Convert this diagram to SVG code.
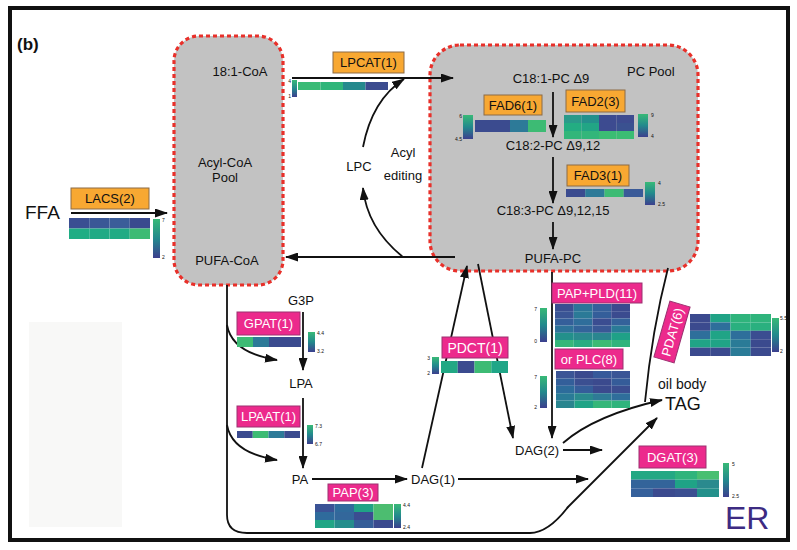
<svg xmlns="http://www.w3.org/2000/svg" width="797" height="550" viewBox="0 0 797 550">
<style>
text{font-family:"Liberation Sans",Arial,sans-serif;fill:#111}
.lbl{font-size:13px}
.c{text-anchor:middle}
.e{text-anchor:end}
.tiny{font-size:5px}
.pool{fill:#c2c2c2;stroke:#e8302a;stroke-width:3.2;stroke-dasharray:4 3}
.or{fill:#f8a832;stroke:#8c6b45;stroke-width:1}
.pk{fill:#ec2a8c;stroke:#9c3070;stroke-width:1}
.pkt{fill:#fff;font-size:13px;text-anchor:middle}
.ln{fill:none;stroke:#111;stroke-width:1.8}
.ar{fill:none;stroke:#111;stroke-width:1.8;marker-end:url(#ah)}
</style>
<defs>
<marker id="ah" markerUnits="userSpaceOnUse" markerWidth="13" markerHeight="9" refX="12" refY="4.5" orient="auto">
<path d="M0,0 L13,4.5 L0,9 z" fill="#111"/>
</marker>
<linearGradient id="lg" x1="0" y1="0" x2="0" y2="1">
<stop offset="0" stop-color="#38b977"/>
<stop offset="0.5" stop-color="#22898d"/>
<stop offset="1" stop-color="#3c3f8e"/>
</linearGradient>
</defs>
<rect width="797" height="550" fill="#fff"/>
<rect x="29" y="322" width="93" height="205" fill="#f8f8f7"/>
<rect x="10" y="8" width="778" height="532" fill="none" stroke="#111" stroke-width="4"/>
<text x="17" y="50" style="font-size:17px;font-weight:bold">(b)</text>

<g id="acyl-coa-pool">
<rect class="pool" x="174" y="36" width="109" height="249" rx="25"/>
<text class="lbl c" x="240" y="76">18:1-CoA</text>
<text class="lbl c" x="225" y="167">Acyl-CoA</text>
<text class="lbl c" x="225" y="182">Pool</text>
<text class="lbl c" x="227" y="265">PUFA-CoA</text>
</g>

<g id="pc-pool">
<rect class="pool" x="430" y="45" width="268" height="226" rx="30"/>
<text class="lbl" x="627" y="76">PC Pool</text>
<text class="lbl c" x="551" y="83">C18:1-PC Δ9</text>
<text class="lbl c" x="553" y="150">C18:2-PC  Δ9,12</text>
<text class="lbl c" x="553" y="215">C18:3-PC  Δ9,12,15</text>
<text class="lbl c" x="553" y="263">PUFA-PC</text>
</g>

<g id="labels">
<text x="25" y="219" style="font-size:19px">FFA</text>
<text class="lbl c" x="359" y="171">LPC</text>
<text class="lbl c" x="403" y="157">Acyl</text>
<text class="lbl c" x="403" y="180">editing</text>
<text class="lbl c" x="301" y="305">G3P</text>
<text class="lbl c" x="301" y="388">LPA</text>
<text class="lbl c" x="300" y="484">PA</text>
<text class="lbl" x="411" y="484">DAG(1)</text>
<text class="lbl" x="515" y="455">DAG(2)</text>
<text x="658" y="389" style="font-size:14px">oil body</text>
<text x="665" y="410" style="font-size:18px">TAG</text>
<text x="725" y="529" style="font-size:32px;fill:#3d2b82">ER</text>
</g>

<g id="connectors">
<path class="ar" d="M71 213 L167 213"/>
<path class="ar" d="M292 78 L453 78"/>
<path class="ar" d="M363 147 Q372 100 404 79"/>
<path class="ar" d="M403 257 Q367 228 363 188"/>
<path class="ar" d="M455 257 L286 257"/>
<path class="ar" d="M553 92 L553 137"/>
<path class="ar" d="M553 157 L553 203"/>
<path class="ar" d="M553 222 L553 249"/>
<path class="ln" d="M227 285 L227 515 Q227 533 247 533 L530 533 Q548 533 568 507"/>
<path class="ar" d="M567 508 L657 418"/>
<path class="ar" d="M227 325 Q232 353 277 360"/>
<path class="ar" d="M227 425 Q232 453 277 460"/>
<path class="ar" d="M303 312 L303 370"/>
<path class="ar" d="M303 398 L303 468"/>
<path class="ar" d="M312 479 L407 479"/>
<path class="ar" d="M422 468 L467 266"/>
<path class="ar" d="M478 264 L513 438"/>
<path class="ar" d="M552 272 L552 438"/>
<path class="ar" d="M458 479 L588 479"/>
<path class="ar" d="M563 443 Q595 415 662 400"/>
<path class="ar" d="M563 450 L602 450"/>
<path class="ln" d="M668 268 Q652 330 645 402"/>
</g>

<g id="lacs">
<rect class="or" x="71" y="188" width="78" height="21"/>
<text class="lbl c" x="110" y="203">LACS(2)</text>
<rect x="69" y="218" width="20.25" height="10.5" fill="#3a4e92"/>
<rect x="89.25" y="218" width="20.25" height="10.5" fill="#3a5796"/>
<rect x="109.5" y="218" width="20.25" height="10.5" fill="#3b5d99"/>
<rect x="129.75" y="218" width="20.25" height="10.5" fill="#3a4a8e"/>
<rect x="69" y="228.5" width="20.25" height="10.5" fill="#1fad84"/>
<rect x="89.25" y="228.5" width="20.25" height="10.5" fill="#20aa85"/>
<rect x="109.5" y="228.5" width="20.25" height="10.5" fill="#21ab84"/>
<rect x="129.75" y="228.5" width="20.25" height="10.5" fill="#3dbb74"/>
<rect x="153" y="219" width="7" height="39" fill="url(#lg)"/>
<text class="tiny" x="162" y="222">7</text>
<text class="tiny" x="162" y="259">2</text>
</g>

<g id="lpcat">
<rect class="or" x="333" y="52" width="71" height="21"/>
<text class="lbl c" x="368.5" y="67">LPCAT(1)</text>
<rect x="298" y="82" width="22.5" height="8" fill="#3abb76"/>
<rect x="320.5" y="82" width="22.5" height="8" fill="#2fb57a"/>
<rect x="343" y="82" width="22.5" height="8" fill="#25898d"/>
<rect x="365.5" y="82" width="22.5" height="8" fill="#3c4c8f"/>
<rect x="292" y="80" width="5" height="17" fill="url(#lg)"/>
<text class="tiny e" x="291" y="83">4</text>
<text class="tiny e" x="291" y="98">1</text>
</g>

<g id="fad6">
<rect class="or" x="484" y="95" width="58" height="20"/>
<text class="lbl c" x="513" y="110">FAD6(1)</text>
<rect x="475" y="120" width="35" height="12" fill="#3b4b8f"/>
<rect x="510" y="120" width="18" height="12" fill="#2d7a98"/>
<rect x="528" y="120" width="18" height="12" fill="#3dbb74"/>
<rect x="463" y="115" width="10" height="24" fill="url(#lg)"/>
<text class="tiny e" x="462" y="118">6</text>
<text class="tiny e" x="462" y="141">4.5</text>
</g>

<g id="fad2">
<rect class="or" x="566" y="90" width="59" height="22"/>
<text class="lbl c" x="595.5" y="106">FAD2(3)</text>
<rect x="564" y="115" width="17.5" height="8" fill="#2a9a8a"/>
<rect x="581.5" y="115" width="17.5" height="8" fill="#24908c"/>
<rect x="599" y="115" width="17.5" height="8" fill="#3d4b90"/>
<rect x="616.5" y="115" width="17.5" height="8" fill="#3d4b90"/>
<rect x="564" y="123" width="17.5" height="8" fill="#23ad82"/>
<rect x="581.5" y="123" width="17.5" height="8" fill="#22a585"/>
<rect x="599" y="123" width="17.5" height="8" fill="#3d4b90"/>
<rect x="616.5" y="123" width="17.5" height="8" fill="#3a5190"/>
<rect x="564" y="131" width="17.5" height="8" fill="#33b67a"/>
<rect x="581.5" y="131" width="17.5" height="8" fill="#33b67a"/>
<rect x="599" y="131" width="17.5" height="8" fill="#3bbd73"/>
<rect x="616.5" y="131" width="17.5" height="8" fill="#3bbd73"/>
<rect x="638" y="114" width="10" height="23" fill="url(#lg)"/>
<text class="tiny" x="651" y="117">9</text>
<text class="tiny" x="651" y="138">4</text>
</g>

<g id="fad3">
<rect class="or" x="567" y="165" width="62" height="21"/>
<text class="lbl c" x="598" y="180">FAD3(1)</text>
<rect x="566" y="189" width="19.25" height="8" fill="#3b4b8f"/>
<rect x="585.25" y="189" width="19.25" height="8" fill="#2d7a98"/>
<rect x="604.5" y="189" width="19.25" height="8" fill="#3dbb74"/>
<rect x="623.75" y="189" width="19.25" height="8" fill="#3a5a98"/>
<rect x="645" y="182" width="10" height="23" fill="url(#lg)"/>
<text class="tiny" x="658" y="185">4</text>
<text class="tiny" x="658" y="206">2.5</text>
</g>

<g id="gpat">
<rect class="pk" x="237" y="312" width="63" height="23"/>
<text class="pkt" x="268.5" y="328">GPAT(1)</text>
<rect x="237" y="337" width="16" height="10" fill="#3dbb74"/>
<rect x="253" y="337" width="16" height="10" fill="#2d7a98"/>
<rect x="269" y="337" width="32" height="10" fill="#3b4b8f"/>
<rect x="308" y="332" width="7" height="20" fill="url(#lg)"/>
<text class="tiny" x="317" y="335">4.4</text>
<text class="tiny" x="317" y="353">3.2</text>
</g>

<g id="lpaat">
<rect class="pk" x="237" y="406" width="63" height="21"/>
<text class="pkt" x="268.5" y="421">LPAAT(1)</text>
<rect x="237" y="431" width="15.75" height="7" fill="#3b4b8f"/>
<rect x="252.75" y="431" width="15.75" height="7" fill="#3dbb74"/>
<rect x="268.5" y="431" width="15.75" height="7" fill="#2d7a98"/>
<rect x="284.25" y="431" width="15.75" height="7" fill="#3b4b8f"/>
<rect x="307" y="425" width="6" height="19" fill="url(#lg)"/>
<text class="tiny" x="315" y="428">7.3</text>
<text class="tiny" x="315" y="446">6.7</text>
</g>

<g id="pap">
<rect class="pk" x="328" y="484" width="50" height="17"/>
<text class="pkt" x="353" y="497">PAP(3)</text>
<rect x="315" y="504" width="19.5" height="8" fill="#3b5396"/>
<rect x="334.5" y="504" width="19.5" height="8" fill="#2f6b9c"/>
<rect x="354" y="504" width="19.5" height="8" fill="#20a386"/>
<rect x="373.5" y="504" width="19.5" height="8" fill="#4cbd70"/>
<rect x="315" y="512" width="19.5" height="8" fill="#2f6b9c"/>
<rect x="334.5" y="512" width="19.5" height="8" fill="#33679b"/>
<rect x="354" y="512" width="19.5" height="8" fill="#3b4d91"/>
<rect x="373.5" y="512" width="19.5" height="8" fill="#4cbd70"/>
<rect x="315" y="520" width="19.5" height="8" fill="#21a585"/>
<rect x="334.5" y="520" width="19.5" height="8" fill="#258d8c"/>
<rect x="354" y="520" width="19.5" height="8" fill="#355e99"/>
<rect x="373.5" y="520" width="19.5" height="8" fill="#3b4a8e"/>
<rect x="394" y="504" width="7" height="24" fill="url(#lg)"/>
<text class="tiny" x="403" y="507">4.4</text>
<text class="tiny" x="403" y="529">2.4</text>
</g>

<g id="pdct">
<rect class="pk" x="442" y="337" width="66" height="21"/>
<text class="pkt" x="475" y="353" style="font-size:14px">PDCT(1)</text>
<rect x="441" y="361" width="16.75" height="12" fill="#22a884"/>
<rect x="457.75" y="361" width="16.75" height="12" fill="#3b4b8f"/>
<rect x="474.5" y="361" width="16.75" height="12" fill="#3dbb74"/>
<rect x="491.25" y="361" width="16.75" height="12" fill="#20a687"/>
<rect x="432" y="357" width="7" height="17" fill="url(#lg)"/>
<text class="tiny e" x="430" y="360">3</text>
<text class="tiny e" x="430" y="375">2</text>
</g>

<g id="pap-pld">
<rect class="pk" x="552" y="283" width="90" height="20"/>
<text class="pkt" x="597" y="298">PAP+PLD(11)</text>
<rect x="555" y="304" width="18.75" height="7.2" fill="#3b4f91"/>
<rect x="573.75" y="304" width="18.75" height="7.2" fill="#2c7498"/>
<rect x="592.5" y="304" width="18.75" height="7.2" fill="#35609b"/>
<rect x="611.25" y="304" width="18.75" height="7.2" fill="#3b4a8e"/>
<rect x="555" y="311.2" width="18.75" height="7.2" fill="#3a5595"/>
<rect x="573.75" y="311.2" width="18.75" height="7.2" fill="#2b7a97"/>
<rect x="592.5" y="311.2" width="18.75" height="7.2" fill="#345e9a"/>
<rect x="611.25" y="311.2" width="18.75" height="7.2" fill="#3b4b8f"/>
<rect x="555" y="318.4" width="18.75" height="7.2" fill="#355f9a"/>
<rect x="573.75" y="318.4" width="18.75" height="7.2" fill="#2f6e9b"/>
<rect x="592.5" y="318.4" width="18.75" height="7.2" fill="#3b4d91"/>
<rect x="611.25" y="318.4" width="18.75" height="7.2" fill="#34629a"/>
<rect x="555" y="325.6" width="18.75" height="7.2" fill="#2e7299"/>
<rect x="573.75" y="325.6" width="18.75" height="7.2" fill="#33649a"/>
<rect x="592.5" y="325.6" width="18.75" height="7.2" fill="#3a5796"/>
<rect x="611.25" y="325.6" width="18.75" height="7.2" fill="#2a7b97"/>
<rect x="555" y="332.8" width="18.75" height="7.2" fill="#23908b"/>
<rect x="573.75" y="332.8" width="18.75" height="7.2" fill="#2a8a8e"/>
<rect x="592.5" y="332.8" width="18.75" height="7.2" fill="#2a868f"/>
<rect x="611.25" y="332.8" width="18.75" height="7.2" fill="#1fa187"/>
<rect x="555" y="340" width="18.75" height="7" fill="#35b779"/>
<rect x="573.75" y="340" width="18.75" height="7" fill="#27ad81"/>
<rect x="592.5" y="340" width="18.75" height="7" fill="#3bbb74"/>
<rect x="611.25" y="340" width="18.75" height="7" fill="#2fb47c"/>
<rect x="540" y="308" width="7" height="34" fill="url(#lg)"/>
<text class="tiny e" x="537" y="311">7</text>
<text class="tiny e" x="537" y="343">0</text>
</g>

<g id="plc">
<rect class="pk" x="555" y="349" width="68" height="20"/>
<text class="pkt" x="589" y="364">or PLC(8)</text>
<rect x="556" y="371" width="18.5" height="7.4" fill="#3b5596"/>
<rect x="574.5" y="371" width="18.5" height="7.4" fill="#3b4a8e"/>
<rect x="593" y="371" width="18.5" height="7.4" fill="#36599a"/>
<rect x="611.5" y="371" width="18.5" height="7.4" fill="#3a5596"/>
<rect x="556" y="378.4" width="18.5" height="7.4" fill="#335f9a"/>
<rect x="574.5" y="378.4" width="18.5" height="7.4" fill="#3b4f91"/>
<rect x="593" y="378.4" width="18.5" height="7.4" fill="#3b4a8e"/>
<rect x="611.5" y="378.4" width="18.5" height="7.4" fill="#355c99"/>
<rect x="556" y="385.8" width="18.5" height="7.4" fill="#2d6c9b"/>
<rect x="574.5" y="385.8" width="18.5" height="7.4" fill="#355d9a"/>
<rect x="593" y="385.8" width="18.5" height="7.4" fill="#3b4a8e"/>
<rect x="611.5" y="385.8" width="18.5" height="7.4" fill="#3b4d90"/>
<rect x="556" y="393.2" width="18.5" height="7.4" fill="#2a7b97"/>
<rect x="574.5" y="393.2" width="18.5" height="7.4" fill="#2a8a8e"/>
<rect x="593" y="393.2" width="18.5" height="7.4" fill="#2e7b96"/>
<rect x="611.5" y="393.2" width="18.5" height="7.4" fill="#2f6e9b"/>
<rect x="556" y="400.6" width="18.5" height="7.4" fill="#2a858f"/>
<rect x="574.5" y="400.6" width="18.5" height="7.4" fill="#20a486"/>
<rect x="593" y="400.6" width="18.5" height="7.4" fill="#35b779"/>
<rect x="611.5" y="400.6" width="18.5" height="7.4" fill="#2fb47c"/>
<rect x="540" y="376" width="7" height="32" fill="url(#lg)"/>
<text class="tiny e" x="537" y="379">7</text>
<text class="tiny e" x="537" y="409">2</text>
</g>

<g id="pdat">
<g transform="rotate(-74 672 332)">
<rect class="pk" x="643" y="321.5" width="58" height="21"/>
<text class="pkt" x="672" y="337">PDAT(6)</text>
</g>
<rect x="690" y="314" width="20.25" height="8.4" fill="#3b4a8e"/>
<rect x="710.25" y="314" width="20.25" height="8.4" fill="#20a386"/>
<rect x="730.5" y="314" width="20.25" height="8.4" fill="#2fb47c"/>
<rect x="750.75" y="314" width="20.25" height="8.4" fill="#2fb47c"/>
<rect x="690" y="322.4" width="20.25" height="8.4" fill="#3b4a8e"/>
<rect x="710.25" y="322.4" width="20.25" height="8.4" fill="#2e6f9b"/>
<rect x="730.5" y="322.4" width="20.25" height="8.4" fill="#2ab07f"/>
<rect x="750.75" y="322.4" width="20.25" height="8.4" fill="#2ab07f"/>
<rect x="690" y="330.8" width="20.25" height="8.4" fill="#2e6f9b"/>
<rect x="710.25" y="330.8" width="20.25" height="8.4" fill="#20a486"/>
<rect x="730.5" y="330.8" width="20.25" height="8.4" fill="#2e6f9b"/>
<rect x="750.75" y="330.8" width="20.25" height="8.4" fill="#3b4d91"/>
<rect x="690" y="339.2" width="20.25" height="8.4" fill="#20a486"/>
<rect x="710.25" y="339.2" width="20.25" height="8.4" fill="#20a486"/>
<rect x="730.5" y="339.2" width="20.25" height="8.4" fill="#2a7b97"/>
<rect x="750.75" y="339.2" width="20.25" height="8.4" fill="#3b4a8e"/>
<rect x="690" y="347.6" width="20.25" height="8.4" fill="#3b4a8e"/>
<rect x="710.25" y="347.6" width="20.25" height="8.4" fill="#3b4a8e"/>
<rect x="730.5" y="347.6" width="20.25" height="8.4" fill="#2a7b97"/>
<rect x="750.75" y="347.6" width="20.25" height="8.4" fill="#3b4a8e"/>
<rect x="772" y="318" width="7" height="34" fill="url(#lg)"/>
<text class="tiny" x="780" y="320">5.5</text>
<text class="tiny" x="780" y="353">2</text>
</g>

<g id="dgat">
<rect class="pk" x="639" y="446" width="67" height="22"/>
<text class="pkt" x="672.5" y="462">DGAT(3)</text>
<rect x="631" y="471" width="22" height="8.67" fill="#24a884"/>
<rect x="653" y="471" width="22" height="8.67" fill="#24a884"/>
<rect x="675" y="471" width="22" height="8.67" fill="#2fb47c"/>
<rect x="697" y="471" width="22" height="8.67" fill="#48bf71"/>
<rect x="631" y="479.67" width="22" height="8.67" fill="#33649a"/>
<rect x="653" y="479.67" width="22" height="8.67" fill="#33649a"/>
<rect x="675" y="479.67" width="22" height="8.67" fill="#1fa386"/>
<rect x="697" y="479.67" width="22" height="8.67" fill="#2a8a8e"/>
<rect x="631" y="488.33" width="22" height="8.67" fill="#35609b"/>
<rect x="653" y="488.33" width="22" height="8.67" fill="#3b4a8e"/>
<rect x="675" y="488.33" width="22" height="8.67" fill="#3b4f91"/>
<rect x="697" y="488.33" width="22" height="8.67" fill="#23908b"/>
<rect x="723" y="463" width="6" height="34" fill="url(#lg)"/>
<text class="tiny" x="732" y="466">5</text>
<text class="tiny" x="732" y="498">2.5</text>
</g>
</svg>
